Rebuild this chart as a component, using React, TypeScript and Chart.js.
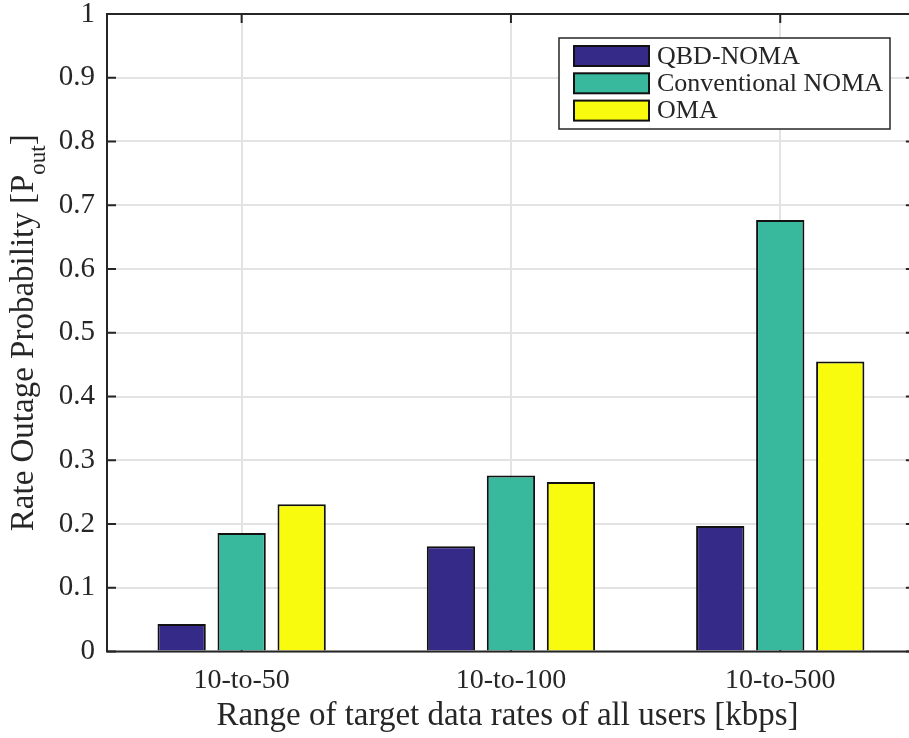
import React, { useEffect, useRef } from "react";
import { Chart, registerables } from "chart.js";

Chart.register(...registerables);

// ---- data ----
const categories = ["10-to-50", "10-to-100", "10-to-500"];
const seriesNames = ["QBD-NOMA", "Conventional NOMA", "OMA"];
const qbdNoma = [0.043, 0.165, 0.197];
const convNoma = [0.186, 0.276, 0.677];
const oma = [0.231, 0.266, 0.455];
const yTickValues = [0, 0.1, 0.2, 0.3, 0.4, 0.5, 0.6, 0.7, 0.8, 0.9, 1];
const xTitle = "Range of target data rates of all users [kbps]";
const yTitleMain = "Rate Outage Probability [P";
const yTitleSub = "out";
const yTitleEnd = "]";

const seriesColors = ["#352A87", "#38B99E", "#F9FB0E"];
const FONT = "'Liberation Serif', 'Times New Roman', serif";
const TEXT = "#262626";

const framePlugin = {
  id: "matlabFrame",
  beforeDatasetsDraw(chart: any) {
    const { ctx, chartArea, scales } = chart;
    const x = scales.x;
    const y = scales.y;
    const left = chartArea.left;
    const top = chartArea.top;
    const bottom = chartArea.bottom;
    const rightAxis = x.getPixelForValue(3.5);
    const tl = 9;
    ctx.save();
    ctx.strokeStyle = TEXT;
    ctx.lineWidth = 2;
    ctx.beginPath();
    yTickValues.forEach((v) => {
      const py = y.getPixelForValue(v);
      ctx.moveTo(left, py);
      ctx.lineTo(left + tl, py);
      ctx.moveTo(rightAxis, py);
      ctx.lineTo(rightAxis - tl, py);
    });
    categories.forEach((_, i) => {
      const px = x.getPixelForValue(i + 1);
      ctx.moveTo(px, bottom);
      ctx.lineTo(px, bottom - tl);
      ctx.moveTo(px, top);
      ctx.lineTo(px, top + tl);
    });
    ctx.stroke();
    ctx.restore();
  },
  afterDatasetsDraw(chart: any) {
    const { ctx, chartArea, scales } = chart;
    const rightAxis = scales.x.getPixelForValue(3.5);
    ctx.save();
    ctx.strokeStyle = TEXT;
    ctx.lineWidth = 2;
    ctx.beginPath();
    ctx.moveTo(chartArea.left, chartArea.top);
    ctx.lineTo(chartArea.left, chartArea.bottom);
    ctx.moveTo(chartArea.left - 1, chartArea.bottom);
    ctx.lineTo(rightAxis, chartArea.bottom);
    ctx.moveTo(chartArea.left - 1, chartArea.top);
    ctx.lineTo(rightAxis, chartArea.top);
    ctx.stroke();
    ctx.restore();
  },
  afterDraw(chart: any) {
    const { ctx, chartArea } = chart;
    // y-axis title with subscript
    ctx.save();
    const mainFont = `33px ${FONT}`;
    const subFont = `23px ${FONT}`;
    ctx.font = mainFont;
    const wMain = ctx.measureText(yTitleMain).width;
    const wEnd = ctx.measureText(yTitleEnd).width;
    ctx.font = subFont;
    const wSub = ctx.measureText(yTitleSub).width;
    const total = wMain + wSub + wEnd;
    const cy = (chartArea.top + chartArea.bottom) / 2;
    ctx.translate(33, cy);
    ctx.rotate(-Math.PI / 2);
    ctx.fillStyle = TEXT;
    ctx.textBaseline = "alphabetic";
    ctx.textAlign = "left";
    let sx = -total / 2;
    ctx.font = mainFont;
    ctx.fillText(yTitleMain, sx, 0);
    sx += wMain;
    ctx.font = subFont;
    ctx.fillText(yTitleSub, sx, 12);
    sx += wSub;
    ctx.font = mainFont;
    ctx.fillText(yTitleEnd, sx, 0);
    ctx.restore();

    // legend
    ctx.save();
    const bx = 559, by = 38, bw = 331, bh = 91;
    ctx.fillStyle = "#ffffff";
    ctx.fillRect(bx, by, bw, bh);
    ctx.strokeStyle = TEXT;
    ctx.lineWidth = 1.5;
    ctx.strokeRect(bx, by, bw, bh);
    ctx.font = `26px ${FONT}`;
    ctx.textBaseline = "middle";
    ctx.textAlign = "left";
    seriesNames.forEach((name, i) => {
      const cyr = 56 + i * 27.3;
      ctx.fillStyle = seriesColors[i];
      ctx.fillRect(574, cyr - 10, 75, 20);
      ctx.strokeStyle = "#111111";
      ctx.lineWidth = 2;
      ctx.strokeRect(574, cyr - 10, 75, 20);
      ctx.fillStyle = TEXT;
      ctx.fillText(name, 657, cyr + 1);
    });
    ctx.restore();
  },
};

export default function App() {
  const canvasRef = useRef<HTMLCanvasElement | null>(null);

  useEffect(() => {
    const canvas = canvasRef.current;
    if (!canvas) return;
    const seriesValues = [qbdNoma, convNoma, oma];
    const chart = new Chart(canvas, {
      type: "bar",
      data: {
        datasets: seriesNames.map((name, si) => ({
          label: name,
          data: seriesValues[si].map((v, i) => ({ x: i + 1, y: v })),
          backgroundColor: seriesColors[si],
          borderColor: "#111111",
          borderWidth: 2,
          categoryPercentage: 0.6684,
          barPercentage: 0.805,
        })),
      },
      options: {
        animation: false,
        responsive: false,
        devicePixelRatio: 1,
        layout: { padding: { top: 14, right: 1, left: 0, bottom: 0 } },
        plugins: {
          legend: { display: false },
          tooltip: { enabled: false },
        },
        scales: {
          x: {
            type: "linear",
            min: 0.5,
            max: 3.4744,
            offset: false,
            afterBuildTicks: (scale: any) => {
              scale.ticks = categories.map((_, i) => ({ value: i + 1 }));
            },
            afterFit: (scale: any) => {
              scale.height = 86.5;
              scale.paddingLeft = 0;
              scale.paddingRight = 0;
            },
            border: { display: false },
            grid: { color: "#e3e3e3", lineWidth: 2, drawTicks: false, offset: false },
            ticks: {
              autoSkip: false,
              maxRotation: 0,
              padding: 12,
              color: TEXT,
              font: { family: FONT, size: 28 },
              callback: (value: any) => categories[Math.round(Number(value)) - 1] ?? "",
            },
            title: {
              display: true,
              text: xTitle,
              color: TEXT,
              font: { family: FONT, size: 33 },
              padding: { top: 0, bottom: 2 },
            },
          },
          y: {
            type: "linear",
            min: 0,
            max: 1,
            afterBuildTicks: (scale: any) => {
              scale.ticks = yTickValues.map((v) => ({ value: v }));
            },
            afterFit: (scale: any) => {
              scale.width = 107;
              scale.paddingTop = 0;
              scale.paddingBottom = 0;
            },
            border: { display: false },
            grid: { color: "#e3e3e3", lineWidth: 2, drawTicks: false },
            ticks: {
              padding: 12,
              color: TEXT,
              font: { family: FONT, size: 29 },
              callback: (value: any) => String(Math.round(Number(value) * 10) / 10),
            },
          },
        },
      },
      plugins: [framePlugin],
    } as any);
    return () => chart.destroy();
  }, []);

  return (
    <div style={{ position: "fixed", left: 0, top: 0, width: 909, height: 738, background: "#ffffff" }}>
      <canvas ref={canvasRef} width={909} height={738} style={{ display: "block" }} />
    </div>
  );
}
